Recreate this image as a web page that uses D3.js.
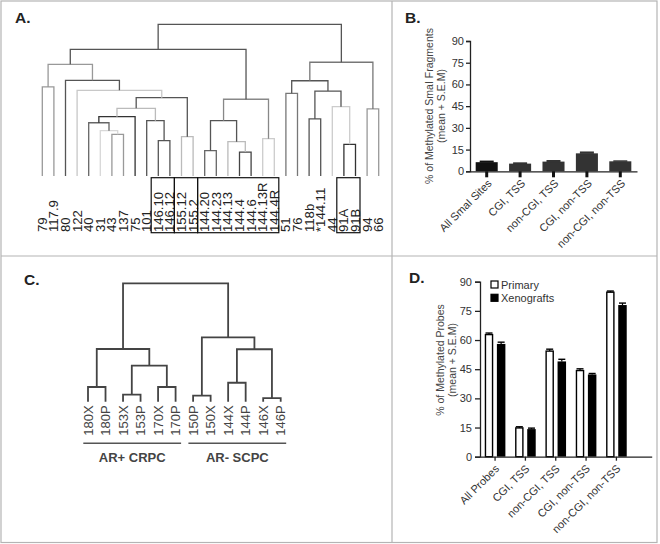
<!DOCTYPE html>
<html><head><meta charset="utf-8">
<script src="https://cdn.jsdelivr.net/npm/d3@7"></script>
<style>body{margin:0;background:#fff} text{font-family:"Liberation Sans",Arial,Helvetica,sans-serif}</style>
</head><body><svg id="c" width="660" height="544"></svg>
<script>
// ---------- Panel A data ----------
const leavesA = ["79","117.9","80","122","40","31","43","137","75","101","146.10","146.12","155.12","155.2","144.20","144.23","144.13","144.4","144.6","144.13R","144.4R","51","76","118b","*144.11","44","91A","91B","94","66"];
// [height, left, right]
const treeA = [100,
  [83.5,
    [73.6, [58.7,"79","117.9"],
      [63.1,"80",[56.5,"122",[51.6,
        [44.6,[39.1,[35.1,"40",[29.9,"31",[27.5,"43","137"]]],"75"],[36.5,"101",[23.3,"146.10","146.12"]]],
        [25.9,"155.12","155.2"]]]]],
    [50.6,[36.5,[16.7,"144.20","144.23"],[22.6,"144.13",[15.8,"144.4","144.6"]]],[24.6,"144.13R","144.4R"]]],
  [75,[62.8,[54.5,"51","76"],[56,[37.6,"118b","*144.11"],[45.7,"44",[20.9,"91A","91B"]]]],[44.2,"94","66"]]];
const boxesA = [["146.10","146.12"],["155.12","155.2"],["144.20","144.4R"],["91A","91B"]];
// pre-order shades of the A branches
const shadesA = ["#555","#555","#999","#999","#555","#c8c8c8","#555","#bbb","#333","#666","#d8d8d8","#999","#555","#555","#bbb","#888","#555","#666","#bbb","#444","#ccc","#777","#555","#777","#555","#555","#ccc","#333","#999"];

// ---------- Panel B data ----------
const catsB = ["All SmaI Sites","CGI, TSS","non-CGI, TSS","CGI, non-TSS","non-CGI, non-TSS"];
const valsB = [6.3,5.3,6.7,12.4,6.9];
const semB  = [1.1,0.9,1.1,1.3,0.7];
const ticksY = [0,15,30,45,60,75,90];

// ---------- Panel C data ----------
const leavesC = ["180X","180P","153X","153P","170X","170P","150P","150X","144X","144P","146X","146P"];
const treeC = [100,[44.5,[12.4,"180X","180P"],[30.4,[5.9,"153X","153P"],[12.4,"170X","170P"]]],
                   [54.4,[5.1,"150P","150X"],[44.3,[16,"144X","144P"],[3.1,"146X","146P"]]]];
const groupsC = [["AR+ CRPC","180X","170P"],["AR- SCPC","150P","146P"]];

// ---------- Panel D data ----------
const catsD = ["All Probes","CGI, TSS","non-CGI, TSS","CGI, non-TSS","non-CGI, non-TSS"];
const seriesD = ["Primary","Xenografts"];
const primaryD = [62.8,14.8,54.3,44.3,84.6];
const primarySemD = [0.8,0.6,1.0,0.9,0.6];
const xenoD = [58.0,14.2,49.0,42.3,78.0];
const xenoSemD = [0.9,0.5,1.1,0.5,1.0];

const svg = d3.select("#c");
const FONT = '"Liberation Sans",Arial,sans-serif';

// borders
const border = "#b4b4b4";
svg.append("rect").attr("x",1).attr("y",1).attr("width",656).attr("height",541.5).attr("fill","none").attr("stroke",border).attr("stroke-width",1.2);
svg.append("line").attr("x1",392).attr("x2",392).attr("y1",1).attr("y2",542.5).attr("stroke",border).attr("stroke-width",1.2);
svg.append("line").attr("x1",1).attr("x2",657).attr("y1",256).attr("y2",256).attr("stroke",border).attr("stroke-width",1.2);

// panel letters
[["A.",15,23],["B.",405,23],["C.",24,285],["D.",409,283]].forEach(d=>{
  svg.append("text").attr("x",d[1]).attr("y",d[2]).text(d[0]).attr("font-size",15.5).attr("font-weight","bold").attr("fill","#222");
});

// ---------- dendrogram helper ----------
function dendro(g, tree, xs, ys, shades, width){
  let idx = 0;
  function rec(n){
    if (typeof n === "string") return {x: xs(n), y: ys(0)};
    const col = shades ? shades[idx++] : "#444";
    const l = rec(n[1]), r = rec(n[2]);
    const y = ys(n[0]);
    g.append("path").attr("d",`M${l.x},${l.y}V${y}H${r.x}V${r.y}`)
      .attr("fill","none").attr("stroke",col).attr("stroke-width",width);
    return {x:(l.x+r.x)/2, y};
  }
  return rec(tree);
}

// ---------- Panel A ----------
const gA = svg.append("g");
const xA = d3.scalePoint().domain(leavesA).range([42.3,378.7]);
const yA = d3.scaleLinear().domain([0,100]).range([176,24.3]);
dendro(gA, treeA, xA, yA, shadesA, 1.3);
leavesA.forEach(n=>{
  gA.append("text").attr("transform",`translate(${xA(n)},232) rotate(-90) scale(1.05,1)`)
    .attr("dy","0.36em").attr("font-size",12.5).attr("fill","#222").text(n);
});
const stepA = xA.step();
boxesA.forEach(b=>{
  const x0 = xA(b[0]) - stepA/2 - 1.3, x1 = xA(b[1]) + stepA/2 - 1.3;
  gA.append("rect").attr("x",x0).attr("y",177.7).attr("width",x1-x0).attr("height",55)
    .attr("fill","none").attr("stroke","#111").attr("stroke-width",1.2);
});

// ---------- bar axis helper ----------
function yAxisLabel(x1, x2, yc, l1, l2){
  svg.append("text").attr("transform",`translate(${x1},${yc}) rotate(-90)`).attr("text-anchor","middle").attr("dy","0.35em").attr("font-size",10.5).attr("fill","#444").text(l1);
  svg.append("text").attr("transform",`translate(${x2},${yc}) rotate(-90)`).attr("text-anchor","middle").attr("dy","0.35em").attr("font-size",10.5).attr("fill","#444").text(l2);
}
function styleAxis(g){
  g.selectAll("path,line").attr("stroke","#222").attr("stroke-width",1.3);
  g.selectAll("text").attr("font-size",11).attr("fill","#333").attr("font-family",FONT);
}

// ---------- Panel B ----------
const xB = d3.scaleBand().domain(catsB).range([470,637]).paddingInner(0.34).paddingOuter(0.17);
const yB = d3.scaleLinear().domain([0,90]).range([171.3,41]);
const gB = svg.append("g");
catsB.forEach((c,i)=>{
  const col = i===0 ? "#111" : "#333";
  const cx = xB(c) + xB.bandwidth()/2;
  gB.append("rect").attr("x",xB(c)).attr("y",yB(valsB[i])).attr("width",xB.bandwidth()).attr("height",yB(0)-yB(valsB[i])).attr("fill",col);
  gB.append("rect").attr("x",cx-7).attr("y",yB(valsB[i]+semB[i])).attr("width",14).attr("height",yB(valsB[i])-yB(valsB[i]+semB[i])+0.5).attr("fill",col);
});
const axYB = svg.append("g").attr("transform","translate(470,0)").call(d3.axisLeft(yB).tickValues(ticksY).tickSize(4).tickPadding(2));
styleAxis(axYB);
const axXB = svg.append("g").attr("transform",`translate(0,${yB(0)})`).call(d3.axisBottom(xB).tickSize(6).tickSizeOuter(0).tickFormat(""));
styleAxis(axXB);
axXB.selectAll(".tick line").attr("stroke-width",3).attr("stroke","#111");
catsB.forEach(c=>{
  svg.append("text").attr("transform",`translate(${xB(c)+xB.bandwidth()/2+3},${yB(0)+10}) rotate(-45)`)
    .attr("text-anchor","end").attr("dy","0.35em").attr("font-size",11).attr("fill","#333").text(c);
});
yAxisLabel(429.5, 441, 106, "% of Methylated SmaI Fragments", "(mean + S.E.M)");

// ---------- Panel C ----------
const gC = svg.append("g");
const xC = d3.scalePoint().domain(leavesC).range([88,280.7]);
const yC = d3.scaleLinear().domain([0,100]).range([401.7,283.3]);
dendro(gC, treeC, xC, yC, null, 1.8);
leavesC.forEach(n=>{
  gC.append("text").attr("transform",`translate(${xC(n)},435.7) rotate(-90)`)
    .attr("dy","0.36em").attr("font-size",13).attr("fill","#444").text(n);
});
groupsC.forEach(g=>{
  const x0 = xC(g[1]) - 4.7, x1 = xC(g[2]) + 5.5;
  gC.append("line").attr("x1",x0).attr("x2",x1).attr("y1",443.3).attr("y2",443.3).attr("stroke","#555").attr("stroke-width",1.4);
  gC.append("text").attr("x",(x0+x1)/2).attr("y",461.5).attr("text-anchor","middle").attr("font-size",13).attr("font-weight","bold").attr("fill","#444").text(g[0]);
});

// ---------- Panel D ----------
const xD = d3.scaleBand().domain(catsD).range([480,651.7]).paddingInner(0.32).paddingOuter(0.49).align(0.16);
const xSub = d3.scaleBand().domain(seriesD).range([0,xD.bandwidth()]).paddingInner(0.3);
const yD = d3.scaleLinear().domain([0,90]).range([456.7,281.7]);
const gD = svg.append("g");
const dataD = [[primaryD,primarySemD,"#fff"],[xenoD,xenoSemD,"#000"]];
catsD.forEach((c,i)=>{
  dataD.forEach((s,j)=>{
    const x = xD(c)+xSub(seriesD[j]), w = xSub.bandwidth(), v = s[0][i], e = s[1][i];
    const cx = x + w/2;
    gD.append("line").attr("x1",cx).attr("x2",cx).attr("y1",yD(v)).attr("y2",yD(v+e)).attr("stroke","#000").attr("stroke-width",1.2);
    gD.append("line").attr("x1",cx-3.5).attr("x2",cx+3.5).attr("y1",yD(v+e)).attr("y2",yD(v+e)).attr("stroke","#000").attr("stroke-width",1.4);
    gD.append("rect").attr("x",x+(j===0?0.7:0)).attr("y",yD(v)).attr("width",w-(j===0?1.4:0)).attr("height",yD(0)-yD(v))
      .attr("fill",s[2]).attr("stroke","#000").attr("stroke-width",j===0?1.4:0);
  });
});
const axYD = svg.append("g").attr("transform","translate(480,0)").call(d3.axisLeft(yD).tickValues(ticksY).tickSize(5).tickPadding(3));
styleAxis(axYD);
const axXD = svg.append("g").attr("transform",`translate(0,${yD(0)})`).call(d3.axisBottom(xD).tickSize(4).tickSizeOuter(0).tickFormat(""));
styleAxis(axXD);
catsD.forEach(c=>{
  svg.append("text").attr("transform",`translate(${xD(c)+xD.bandwidth()/2+2},${yD(0)+10}) rotate(-45)`)
    .attr("text-anchor","end").attr("dy","0.35em").attr("font-size",11).attr("fill","#333").text(c);
});
yAxisLabel(440, 452, 360, "% of Methylated Probes", "(mean + S.E.M)");
// legend
seriesD.forEach((s,j)=>{
  const y = 281 + j*13.3;
  svg.append("rect").attr("x",491).attr("y",y).attr("width",7).attr("height",7)
    .attr("fill",dataD[j][2]).attr("stroke","#000").attr("stroke-width",1.2);
  svg.append("text").attr("x",501).attr("y",y+3.8).attr("dy","0.35em").attr("font-size",11).attr("fill","#333").text(s);
});
</script></body></html>
